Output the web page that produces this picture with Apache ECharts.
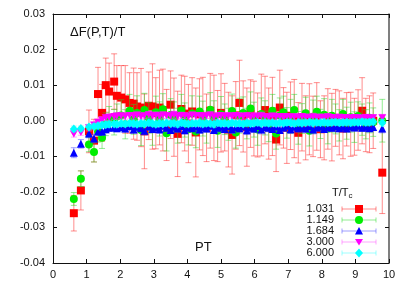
<!DOCTYPE html>
<html><head><meta charset="utf-8">
<script src="https://cdn.jsdelivr.net/npm/echarts@6/dist/echarts.min.js"></script>
<style>html,body{margin:0;padding:0;background:#fff}#c{width:409px;height:286px}</style>
</head><body><div id="c"></div>
<script>
// ---- data ----
const PT = [0.62,0.83,1.07,1.22,1.34,1.46,1.57,1.67,1.82,1.90,
  2.03,2.15,2.28,2.40,2.50,2.62,2.72,2.85,2.96,3.06,
  3.17,3.27,3.38,3.50,3.60,3.71,3.82,3.92,4.03,4.14,
  4.25,4.36,4.46,4.57,4.68,4.79,4.90,5.00,5.11,5.22,
  5.33,5.44,5.55,5.66,5.77,5.88,5.98,6.09,6.20,6.31,
  6.42,6.53,6.64,6.75,6.86,6.96,7.07,7.18,7.30,7.41,
  7.52,7.63,7.74,7.85,7.96,8.07,8.18,8.30,8.41,8.52,
  8.63,8.74,8.86,8.97,9.08,9.20,9.31,9.42,9.53,9.80];

const legendLabels = ['1.031','1.149','1.684','3.000','6.000'];

const y1031 = [-0.0260,-0.0196,-0.0030,-0.0056,0.0075,0.0022,0.0100,0.0082,0.0110,0.0070,
  0.0065,0.0060,0.0050,0.0048,0.0040,0.0037,-0.0030,0.0042,0.0040,0.0021,
  0.0037,0.0030,-0.0012,0.0045,0.0010,-0.0037,0.0033,0.0020,-0.0008,0.0026,
  -0.0033,0.0018,0.0012,-0.0020,0.0028,0.0008,-0.0015,0.0022,0.0010,-0.0025,
  -0.0040,0.0015,0.0050,0.0012,-0.0018,0.0020,0.0006,-0.0012,0.0016,0.0030,
  -0.0008,0.0012,-0.0053,0.0037,0.0008,-0.0020,0.0014,0.0006,-0.0034,0.0010,
  -0.0020,0.0004,-0.0016,0.0012,-0.0024,-0.0020,0.0005,-0.0018,0.0008,-0.0006,
  -0.0022,0.0004,-0.0010,-0.0017,0.0002,0.0028,-0.0012,-0.0010,0.0000,-0.0146];
const e1031 = [0.0050,0.0055,0.0060,0.0060,0.0075,0.0080,0.0076,0.0080,0.0078,0.0085,
  0.0090,0.0095,0.0085,0.0100,0.0095,0.0110,0.0105,0.0095,0.0120,0.0100,
  0.0105,0.0115,0.0100,0.0095,0.0110,0.0120,0.0095,0.0105,0.0110,0.0095,
  0.0125,0.0100,0.0110,0.0095,0.0105,0.0120,0.0100,0.0110,0.0095,0.0105,
  0.0110,0.0095,0.0120,0.0100,0.0110,0.0095,0.0105,0.0090,0.0115,0.0095,
  0.0100,0.0110,0.0090,0.0105,0.0085,0.0100,0.0095,0.0110,0.0085,0.0095,
  0.0090,0.0100,0.0085,0.0095,0.0080,0.0090,0.0085,0.0095,0.0080,0.0090,
  0.0085,0.0075,0.0090,0.0080,0.0085,0.0093,0.0075,0.0080,0.0078,0.0115];

const y1149 = [-0.0220,-0.0163,-0.0067,-0.0088,-0.0030,-0.0048,-0.0010,0.0006,-0.0004,0.0012,
  0.0015,-0.0010,0.0028,0.0004,0.0022,-0.0026,0.0030,0.0008,-0.0020,0.0024,
  0.0005,0.0032,-0.0035,0.0016,0.0010,-0.0014,0.0029,0.0002,-0.0024,0.0020,
  -0.0030,0.0026,0.0006,-0.0018,0.0031,0.0012,-0.0028,0.0018,0.0004,-0.0010,
  0.0027,-0.0033,0.0014,0.0022,-0.0008,0.0034,0.0003,-0.0025,0.0019,0.0008,
  -0.0016,0.0028,-0.0036,0.0015,0.0024,-0.0006,0.0012,0.0030,-0.0020,0.0006,
  0.0021,-0.0028,0.0011,0.0025,-0.0009,0.0017,-0.0022,0.0014,0.0005,-0.0013,
  0.0019,-0.0007,0.0010,-0.0018,0.0013,0.0003,-0.0010,0.0008,-0.0004,0.0000];
const e1149 = [0.0018,0.0022,0.0020,0.0028,0.0030,0.0030,0.0032,0.0034,0.0036,0.0035,
  0.0044,0.0041,0.0046,0.0042,0.0048,0.0044,0.0047,0.0043,0.0049,0.0045,
  0.0048,0.0044,0.0050,0.0046,0.0043,0.0049,0.0045,0.0048,0.0044,0.0050,
  0.0046,0.0043,0.0049,0.0045,0.0048,0.0044,0.0047,0.0050,0.0043,0.0045,
  0.0048,0.0044,0.0049,0.0045,0.0043,0.0047,0.0049,0.0044,0.0045,0.0048,
  0.0043,0.0046,0.0044,0.0049,0.0045,0.0043,0.0048,0.0044,0.0046,0.0042,
  0.0045,0.0043,0.0047,0.0044,0.0041,0.0045,0.0043,0.0046,0.0042,0.0044,
  0.0041,0.0045,0.0042,0.0043,0.0040,0.0044,0.0041,0.0042,0.0040,0.0060];

const y1684 = [-0.0090,-0.0065,-0.0036,-0.0050,-0.0030,-0.0030,-0.0024,-0.0020,-0.0018,-0.0021,
  -0.0018,-0.0022,-0.0015,-0.0025,-0.0017,-0.0021,-0.0028,-0.0016,-0.0023,-0.0019,
  -0.0024,-0.0014,-0.0020,-0.0026,-0.0017,-0.0022,-0.0015,-0.0027,-0.0019,-0.0021,
  -0.0016,-0.0025,-0.0018,-0.0022,-0.0014,-0.0026,-0.0020,-0.0017,-0.0023,-0.0015,
  -0.0024,-0.0018,-0.0021,-0.0016,-0.0027,-0.0019,-0.0022,-0.0015,-0.0025,-0.0018,
  -0.0020,-0.0023,-0.0016,-0.0026,-0.0019,-0.0014,-0.0024,-0.0017,-0.0021,-0.0018,
  -0.0022,-0.0015,-0.0025,-0.0019,-0.0016,-0.0023,-0.0018,-0.0020,-0.0015,-0.0021,
  -0.0017,-0.0022,-0.0016,-0.0019,-0.0014,-0.0020,-0.0017,-0.0021,-0.0018,-0.0022];
const e1684 = [0.0014,0.0012,0.0012,0.0012,0.0011,0.0011,0.0010,0.0010,0.0011,0.0010,
  0.0011,0.0010,0.0012,0.0010,0.0011,0.0009,0.0012,0.0010,0.0011,0.0010,
  0.0012,0.0010,0.0011,0.0009,0.0012,0.0010,0.0011,0.0010,0.0012,0.0009,
  0.0011,0.0010,0.0012,0.0010,0.0011,0.0009,0.0012,0.0010,0.0011,0.0010,
  0.0012,0.0009,0.0011,0.0010,0.0012,0.0010,0.0011,0.0009,0.0012,0.0010,
  0.0011,0.0010,0.0012,0.0009,0.0011,0.0010,0.0012,0.0010,0.0011,0.0009,
  0.0011,0.0010,0.0012,0.0010,0.0011,0.0009,0.0011,0.0010,0.0012,0.0010,
  0.0011,0.0009,0.0011,0.0010,0.0012,0.0010,0.0011,0.0009,0.0010,0.0012];

const y3000 = [-0.0037,-0.0033,-0.0020,-0.0012,-0.0004,0.0002,0.0008,0.0010,0.0012,0.0013,
  0.0014,0.0012,0.0015,0.0013,0.0016,0.0012,0.0014,0.0017,0.0013,0.0015,
  0.0012,0.0016,0.0014,0.0013,0.0017,0.0012,0.0015,0.0014,0.0011,0.0016,
  0.0013,0.0015,0.0012,0.0014,0.0016,0.0011,0.0013,0.0015,0.0012,0.0014,
  0.0011,0.0015,0.0013,0.0012,0.0014,0.0010,0.0013,0.0011,0.0014,0.0012,
  0.0010,0.0013,0.0011,0.0012,0.0009,0.0012,0.0010,0.0011,0.0009,0.0012,
  0.0010,0.0008,0.0011,0.0009,0.0010,0.0008,0.0011,0.0009,0.0007,0.0010,
  0.0008,0.0009,0.0007,0.0009,0.0008,0.0006,0.0009,0.0007,0.0008,0.0008];
const e3000 = [0.0009,0.0008,0.0009,0.0008,0.0008,0.0009,0.0008,0.0009,0.0008,0.0009,
  0.0008,0.0009,0.0008,0.0010,0.0008,0.0009,0.0008,0.0009,0.0008,0.0010,
  0.0008,0.0009,0.0008,0.0009,0.0010,0.0008,0.0009,0.0008,0.0009,0.0008,
  0.0010,0.0008,0.0009,0.0008,0.0009,0.0008,0.0010,0.0008,0.0009,0.0008,
  0.0009,0.0008,0.0010,0.0008,0.0009,0.0008,0.0009,0.0008,0.0010,0.0008,
  0.0009,0.0008,0.0009,0.0008,0.0010,0.0008,0.0009,0.0008,0.0009,0.0008,
  0.0009,0.0008,0.0010,0.0008,0.0009,0.0008,0.0009,0.0008,0.0009,0.0008,
  0.0009,0.0008,0.0009,0.0008,0.0009,0.0008,0.0009,0.0008,0.0009,0.0010];

const y6000 = [-0.0023,-0.0022,-0.0018,-0.0016,-0.0014,-0.0012,-0.0011,-0.0010,-0.0009,-0.0010,
  -0.0008,-0.0009,-0.0007,-0.0008,-0.0010,-0.0007,-0.0009,-0.0006,-0.0008,-0.0010,
  -0.0007,-0.0009,-0.0006,-0.0008,-0.0007,-0.0010,-0.0006,-0.0008,-0.0009,-0.0007,
  -0.0008,-0.0006,-0.0009,-0.0007,-0.0008,-0.0010,-0.0006,-0.0008,-0.0007,-0.0009,
  -0.0006,-0.0008,-0.0007,-0.0009,-0.0006,-0.0008,-0.0007,-0.0005,-0.0008,-0.0006,
  -0.0007,-0.0005,-0.0008,-0.0006,-0.0007,-0.0005,-0.0006,-0.0008,-0.0005,-0.0007,
  -0.0006,-0.0004,-0.0007,-0.0005,-0.0006,-0.0004,-0.0006,-0.0005,-0.0004,-0.0006,
  -0.0005,-0.0004,-0.0006,-0.0004,-0.0005,-0.0003,-0.0005,-0.0004,-0.0003,-0.0006];
const e6000 = [0.0008,0.0007,0.0008,0.0007,0.0007,0.0008,0.0007,0.0008,0.0007,0.0007,
  0.0008,0.0007,0.0008,0.0007,0.0007,0.0008,0.0007,0.0008,0.0007,0.0007,
  0.0008,0.0007,0.0008,0.0007,0.0007,0.0008,0.0007,0.0008,0.0007,0.0007,
  0.0008,0.0007,0.0008,0.0007,0.0007,0.0008,0.0007,0.0008,0.0007,0.0007,
  0.0008,0.0007,0.0008,0.0007,0.0007,0.0008,0.0007,0.0008,0.0007,0.0007,
  0.0008,0.0007,0.0008,0.0007,0.0007,0.0008,0.0007,0.0008,0.0007,0.0007,
  0.0008,0.0007,0.0008,0.0007,0.0007,0.0008,0.0007,0.0008,0.0007,0.0007,
  0.0008,0.0007,0.0008,0.0007,0.0007,0.0008,0.0007,0.0008,0.0007,0.0009];

const xMin = 0, xMax = 10, xStep = 1;
const yMin = -0.04, yMax = 0.03, yStep = 0.01;

// ---- styling ----
const FONT = 'Liberation Sans, Arial, sans-serif';
const sets = [
  {y:y1031, e:e1031, color:'#ff0000', bar:'rgba(255,30,30,0.5)', sym:'rect', size:8},
  {y:y1149, e:e1149, color:'#00ee00', bar:'rgba(40,220,40,0.5)', sym:'circle', size:8},
  {y:y1684, e:e1684, color:'#0000ff', bar:'rgba(80,80,255,0.55)', sym:'triangle', size:8},
  {y:y3000, e:e3000, color:'#ff00ff', bar:'rgba(255,80,255,0.5)', sym:'path://M0,0L10,0L5,9Z', size:[8,7]},
  {y:y6000, e:e6000, color:'#00ffff', bar:'rgba(80,255,255,0.55)', sym:'diamond', size:[8,9]}
];

const series = [];
sets.forEach((s, i) => {
  const d = PT.map((x, k) => [x, s.y[k], s.e[k]]);
  series.push({
    type:'custom', xAxisIndex:0, yAxisIndex:0, z: 2 + 2*i, clip:true,
    data: d, silent:true,
    renderItem: function(params, api){
      const x = api.value(0), y = api.value(1), e = api.value(2);
      const t = api.coord([x, y + e]), b = api.coord([x, y - e]);
      const cw = 3, st = {stroke: s.bar, lineWidth: 1};
      return {type:'group', children:[
        {type:'line', shape:{x1:t[0], y1:t[1], x2:b[0], y2:b[1]}, style:st},
        {type:'line', shape:{x1:t[0]-cw, y1:t[1], x2:t[0]+cw, y2:t[1]}, style:st},
        {type:'line', shape:{x1:b[0]-cw, y1:b[1], x2:b[0]+cw, y2:b[1]}, style:st}
      ]};
    }
  });
  series.push({
    type:'scatter', xAxisIndex:0, yAxisIndex:0, z: 3 + 2*i, silent:true,
    data: d.map(p => [p[0], p[1]]),
    symbol: s.sym, symbolSize: s.size,
    itemStyle:{color: s.color, opacity:1}
  });
});

// legend (graphic)
const legX = 334, legY0 = 209, legDY = 11, lx1 = 342, lx2 = 376, mx = 359;
const graphics = [
  {type:'text', left:70, top:26, style:{text:'ΔF(P,T)/T', font:'13px ' + FONT, fill:'#111'}},
  {type:'text', left:195, top:241, style:{text:'PT', font:'13px ' + FONT, fill:'#111'}},
  {type:'text', left:332, top:187, style:{text:'T/T{s|c}', font:'11px ' + FONT, fill:'#111',
     rich:{s:{fontSize:8, fontFamily:FONT, padding:[6,0,0,0], fill:'#111'}}}}
];
sets.forEach((s, i) => {
  const yy = legY0 + i*legDY;
  graphics.push({type:'text', style:{text:legendLabels[i], x:legX, y:yy, align:'right', verticalAlign:'middle', font:'11px ' + FONT, fill:'#111'}});
  const st = {stroke:s.bar, lineWidth:1};
  graphics.push({type:'line', shape:{x1:lx1, y1:yy, x2:lx2, y2:yy}, style:st});
  graphics.push({type:'line', shape:{x1:lx1, y1:yy-2.5, x2:lx1, y2:yy+2.5}, style:st});
  graphics.push({type:'line', shape:{x1:lx2, y1:yy-2.5, x2:lx2, y2:yy+2.5}, style:st});
  let m;
  if (i === 0) m = {type:'rect', shape:{x:mx-4, y:yy-4, width:8, height:8}};
  else if (i === 1) m = {type:'circle', shape:{cx:mx, cy:yy, r:4}};
  else if (i === 2) m = {type:'polygon', shape:{points:[[mx-4,yy+3.5],[mx+4,yy+3.5],[mx,yy-4]]}};
  else if (i === 3) m = {type:'polygon', shape:{points:[[mx-4,yy-3],[mx+4,yy-3],[mx,yy+3.5]]}};
  else m = {type:'polygon', shape:{points:[[mx,yy-4.5],[mx+4,yy],[mx,yy+4.5],[mx-4,yy]]}};
  m.style = {fill:s.color};
  graphics.push(m);
});

const axisLineStyle = {color:'#111', width:1};
const chart = echarts.init(document.getElementById('c'), null, {renderer:'canvas'});
chart.setOption({
  animation:false,
  backgroundColor:'#fff',
  grid:{left:53, right:20, top:14, bottom:23, containLabel:false},
  xAxis:[
    {type:'value', min:xMin, max:xMax, interval:xStep, position:'bottom',
     axisLine:{show:true, onZero:false, lineStyle:axisLineStyle},
     axisTick:{show:true, inside:true, length:4, lineStyle:axisLineStyle},
     axisLabel:{show:true, margin:6, fontSize:11, fontFamily:FONT, color:'#111'},
     splitLine:{show:false}},
    {type:'value', min:xMin, max:xMax, interval:xStep, position:'top',
     axisLine:{show:true, onZero:false, lineStyle:axisLineStyle},
     axisTick:{show:true, inside:true, length:4, lineStyle:axisLineStyle},
     axisLabel:{show:false}, splitLine:{show:false}}
  ],
  yAxis:[
    {type:'value', min:yMin, max:yMax, interval:yStep, position:'left',
     axisLine:{show:true, onZero:false, lineStyle:axisLineStyle},
     axisTick:{show:true, inside:true, length:4, lineStyle:axisLineStyle},
     axisLabel:{show:true, margin:8, fontSize:11, fontFamily:FONT, color:'#111',
       formatter: v => v.toFixed(2)},
     splitLine:{show:false}},
    {type:'value', min:yMin, max:yMax, interval:yStep, position:'right',
     axisLine:{show:true, onZero:false, lineStyle:{color:'#555', width:1.5}},
     axisTick:{show:true, inside:true, length:4, lineStyle:axisLineStyle},
     axisLabel:{show:false}, splitLine:{show:false}}
  ],
  series: series,
  graphic: graphics
});
</script>
</body></html>
